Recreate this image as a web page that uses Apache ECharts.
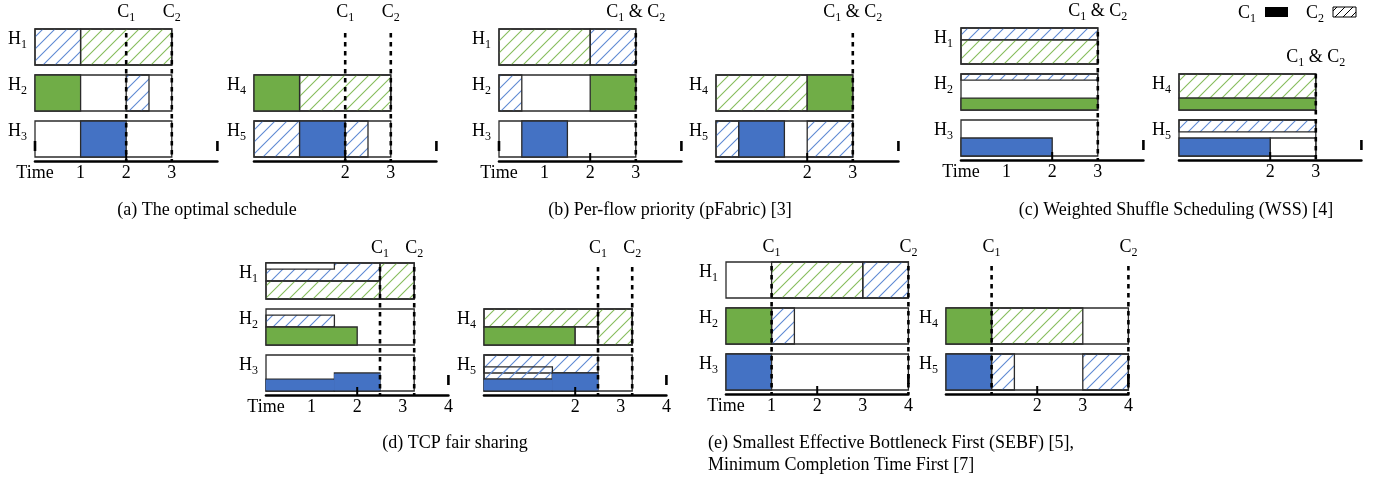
<!DOCTYPE html>
<html><head><meta charset="utf-8">
<script src="https://cdn.jsdelivr.net/npm/echarts@6/dist/echarts.min.js"></script>
<style>html,body{margin:0;padding:0;background:#fff}#c{width:1378px;height:478px}</style>
</head><body><div id="c"></div>
<script>
// ---------------- DATA ----------------
// piece: [host, start, end, rateLow, rateHigh, coflow (0 = idle, 1 = C1, 2 = C2), flow group]
const optimalLeft = [
  ['H1', 0, 1, 0, 1, 2, 'blue'],
  ['H1', 1, 3, 0, 1, 2, 'green'],
  ['H2', 0, 1, 0, 1, 1, 'green'],
  ['H2', 2, 2.5, 0, 1, 2, 'blue'],
  ['H3', 1, 2, 0, 1, 1, 'blue']
];
const optimalRight = [
  ['H4', 0, 1, 0, 1, 1, 'green'],
  ['H4', 1, 3, 0, 1, 2, 'green'],
  ['H5', 0, 1, 0, 1, 2, 'blue'],
  ['H5', 1, 2, 0, 1, 1, 'blue'],
  ['H5', 2, 2.5, 0, 1, 2, 'blue']
];
const pfabricLeft = [
  ['H1', 0, 2, 0, 1, 2, 'green'],
  ['H1', 2, 3, 0, 1, 2, 'blue'],
  ['H2', 0, 0.5, 0, 1, 2, 'blue'],
  ['H2', 2, 3, 0, 1, 1, 'green'],
  ['H3', 0.5, 1.5, 0, 1, 1, 'blue']
];
const pfabricRight = [
  ['H4', 0, 2, 0, 1, 2, 'green'],
  ['H4', 2, 3, 0, 1, 1, 'green'],
  ['H5', 0, 0.5, 0, 1, 2, 'blue'],
  ['H5', 0.5, 1.5, 0, 1, 1, 'blue'],
  ['H5', 2, 3, 0, 1, 2, 'blue']
];
const wssLeft = [
  ['H1', 0, 3, 0.67, 1, 2, 'blue'],
  ['H1', 0, 3, 0, 0.67, 2, 'green'],
  ['H2', 0, 3, 0.83, 1, 2, 'blue'],
  ['H2', 0, 3, 0, 0.33, 1, 'green'],
  ['H3', 0, 2, 0, 0.5, 1, 'blue']
];
const wssRight = [
  ['H4', 0, 3, 0.33, 1, 2, 'green'],
  ['H4', 0, 3, 0, 0.33, 1, 'green'],
  ['H5', 0, 3, 0.67, 1, 2, 'blue'],
  ['H5', 2, 3, 0, 0.5, 0, ''],
  ['H5', 0, 2, 0, 0.5, 1, 'blue']
];
const tcpLeft = [
  ['H1', 0, 2.5, 0.5, 1, 2, 'blue'],
  ['H1', 0, 1.5, 0.83, 1, 0, ''],
  ['H1', 0, 2.5, 0, 0.5, 2, 'green'],
  ['H1', 2.5, 3.25, 0, 1, 2, 'green'],
  ['H2', 0, 1.5, 0.5, 0.83, 2, 'blue'],
  ['H2', 0, 2, 0, 0.5, 1, 'green'],
  ['H3', 0, 1.5, 0, 0.33, 1, 'blue'],
  ['H3', 1.5, 2.5, 0, 0.5, 1, 'blue']
];
const tcpRight = [
  ['H4', 0, 2.5, 0.5, 1, 2, 'green'],
  ['H4', 0, 2, 0, 0.5, 1, 'green'],
  ['H4', 2, 2.5, 0, 0.5, 0, ''],
  ['H4', 2.5, 3.25, 0, 1, 2, 'green'],
  ['H5', 0, 2.5, 0.5, 1, 2, 'blue'],
  ['H5', 0, 1.5, 0.33, 0.67, 2, 'blue'],
  ['H5', 0, 1.5, 0, 0.33, 1, 'blue'],
  ['H5', 1.5, 2.5, 0, 0.5, 1, 'blue']
];
const sebfLeft = [
  ['H1', 1, 3, 0, 1, 2, 'green'],
  ['H1', 3, 4, 0, 1, 2, 'blue'],
  ['H2', 0, 1, 0, 1, 1, 'green'],
  ['H2', 1, 1.5, 0, 1, 2, 'blue'],
  ['H3', 0, 1, 0, 1, 1, 'blue']
];
const sebfRight = [
  ['H4', 0, 1, 0, 1, 1, 'green'],
  ['H4', 1, 3, 0, 1, 2, 'green'],
  ['H5', 0, 1, 0, 1, 1, 'blue'],
  ['H5', 1, 1.5, 0, 1, 2, 'blue'],
  ['H5', 3, 4, 0, 1, 2, 'blue']
];
// completion times [C1, C2]
const optimalC = [2, 3];
const pfabricC = [3, 3];
const wssC = [3, 3];
const tcpC = [2.5, 3.25];
const sebfC = [1, 4];

const hostsLeft = ['H1', 'H2', 'H3'];
const hostsRight = ['H4', 'H5'];

const tickLabelsLeft3 = ['Time', '1', '2', '3', ''];
const tickLabelsRight3 = ['', '', '2', '3', ''];
const tickLabelsLeft4 = ['Time', '1', '2', '3', '4'];
const tickLabelsRight4 = ['', '', '2', '3', '4'];
const axisTickValues = [2];
const axisEndValues = [4];

const captions = [
  '(a) The optimal schedule',
  '(b) Per-flow priority (pFabric) [3]',
  '(c) Weighted Shuffle Scheduling (WSS) [4]',
  '(d) TCP fair sharing',
  '(e) Smallest Effective Bottleneck First (SEBF) [5],',
  'Minimum Completion Time First [7]'
];
const legendNames = ['1', '2'];

// ---------------- STYLE / LAYOUT ----------------
const SERIF = '"Liberation Serif", "Times New Roman", serif';
const SOLID = { green: '#70ad47', blue: '#4472c4' };
const BORDER = '#2b2b2b';
const ROWP = 46, BOXH = 36, GRIDH = 132, UNIT = 45.6;
const rowOf = { H1: 0, H2: 1, H3: 2, H4: 1, H5: 2 };

function makeHatch(color, lw) {
  const s = 12, c = document.createElement('canvas');
  c.width = s; c.height = s;
  const g = c.getContext('2d');
  g.strokeStyle = color; g.lineWidth = lw;
  g.beginPath();
  g.moveTo(-1, s + 1); g.lineTo(s + 1, -1);
  g.moveTo(-2, 2); g.lineTo(2, -2);
  g.moveTo(s - 2, s + 2); g.lineTo(s + 2, s - 2);
  g.stroke();
  return c;
}
const HATCH = { green: makeHatch('#86bd5c', 1.1), blue: makeHatch('#5f8ad3', 1.1) };
const HATCH_BLACK = (function () {
  const s = 8, c = document.createElement('canvas');
  c.width = s; c.height = s;
  const g = c.getContext('2d');
  g.strokeStyle = '#000'; g.lineWidth = 1;
  g.beginPath(); g.moveTo(-1, s + 1); g.lineTo(s + 1, -1); g.stroke();
  return c;
})();

const RICH = {
  m: { fontSize: 18, lineHeight: 24, fontFamily: SERIF, fill: '#000' },
  s: { fontSize: 12, lineHeight: 14, fontFamily: SERIF, fill: '#000', verticalAlign: 'bottom' }
};
function subText(prefix, subs) {
  return subs.map((s, i) => '{m|' + (i ? ' & ' : '') + prefix + '}{s|' + s + '}').join('');
}

const panels = [
  { data: optimalLeft, C: optimalC, hosts: hostsLeft, x0: 35, top: 29, ticks: tickLabelsLeft3, zeroMark: true, cFrom: 'grid' },
  { data: optimalRight, C: optimalC, hosts: hostsRight, x0: 254, top: 29, ticks: tickLabelsRight3, cFrom: 'grid' },
  { data: pfabricLeft, C: pfabricC, hosts: hostsLeft, x0: 499, top: 29, ticks: tickLabelsLeft3, zeroMark: true, cFrom: 'grid' },
  { data: pfabricRight, C: pfabricC, hosts: hostsRight, x0: 716, top: 29, ticks: tickLabelsRight3, cFrom: 'grid' },
  { data: wssLeft, C: wssC, hosts: hostsLeft, x0: 961, top: 28, ticks: tickLabelsLeft3, cFrom: 'grid' },
  { data: wssRight, C: wssC, hosts: hostsRight, x0: 1179, top: 28, ticks: tickLabelsRight3, cFrom: 'first' },
  { data: tcpLeft, C: tcpC, hosts: hostsLeft, x0: 266, top: 263, ticks: tickLabelsLeft4, cFrom: 'grid' },
  { data: tcpRight, C: tcpC, hosts: hostsRight, x0: 484, top: 263, ticks: tickLabelsRight4, cFrom: 'grid' },
  { data: sebfLeft, C: sebfC, hosts: hostsLeft, x0: 726, top: 262, ticks: tickLabelsLeft4, cFrom: 'grid' },
  { data: sebfRight, C: sebfC, hosts: hostsRight, x0: 946, top: 262, ticks: tickLabelsRight4, cFrom: 'grid' }
];

function yOf(row, rate) { return row * ROWP + BOXH * (1 - rate); }

// solid pieces that touch another solid piece of the same flow on the same host
function joinedSolids(data) {
  return data.filter(d => d[5] === 1 && data.some(o => o !== d && o[0] === d[0] && o[5] === 1 &&
    o[6] === d[6] && (o[1] === d[2] || o[2] === d[1])));
}

const grid = [], xAxis = [], yAxis = [], series = [];
panels.forEach((p, i) => {
  p.end = Math.max.apply(null, p.C);
  grid.push({ left: p.x0, top: p.top, width: 4 * UNIT, height: GRIDH });
  xAxis.push({
    gridIndex: i, type: 'value', min: 0, max: 4, interval: 1,
    axisLine: { onZero: false, lineStyle: { color: '#000', width: 2.6 } },
    axisTick: { show: false }, splitLine: { show: false },
    axisLabel: {
      margin: 3, fontFamily: SERIF, fontSize: 18, color: '#000',
      showMinLabel: true, showMaxLabel: true,
      formatter: (v) => p.ticks[Math.round(v)] || ''
    }
  });
  yAxis.push({ gridIndex: i, type: 'value', min: 0, max: GRIDH, inverse: true, show: false });
  const ax = { xAxisIndex: i, yAxisIndex: i, clip: false, animation: false, silent: true };

  function rectOf(api, d) {
    const row = rowOf[d[0]];
    const a = api.coord([d[1], yOf(row, d[4])]), b = api.coord([d[2], yOf(row, d[3])]);
    return { x: a[0], y: a[1], width: b[0] - a[0], height: b[1] - a[1] };
  }

  // host boxes + host labels
  series.push(Object.assign({
    type: 'custom', z: 1,
    data: p.hosts.map(() => [0, p.end]),
    renderItem: (params, api) => {
      const h = p.hosts[params.dataIndex], row = rowOf[h];
      const a = api.coord([0, yOf(row, 1)]), b = api.coord([p.end, yOf(row, 0)]);
      return { type: 'group', children: [
        { type: 'rect', shape: { x: a[0], y: a[1], width: b[0] - a[0], height: b[1] - a[1] },
          style: { fill: '#fff', stroke: BORDER, lineWidth: 1.3 } },
        { type: 'text', x: a[0] - 8, y: a[1] - 2,
          style: { text: subText('H', [h.slice(1)]), rich: RICH, align: 'right', verticalAlign: 'top' } }
      ] };
    }
  }, ax));

  // transmission pieces
  series.push(Object.assign({
    type: 'custom', z: 2,
    data: p.data.map(d => [d[1], d[2]]),
    renderItem: (params, api) => {
      const d = p.data[params.dataIndex];
      let fill = '#fff';
      if (d[5] === 1) fill = SOLID[d[6]];
      else if (d[5] === 2) fill = { image: HATCH[d[6]], repeat: 'repeat' };
      return { type: 'rect', shape: rectOf(api, d), style: { fill: fill, stroke: BORDER, lineWidth: 1.3 } };
    }
  }, ax));

  // fill-only overlay so that joined solid pieces read as one shape
  const joined = joinedSolids(p.data);
  if (joined.length) {
    series.push(Object.assign({
      type: 'custom', z: 2.5,
      data: joined.map(d => [d[1], d[2]]),
      renderItem: (params, api) => {
        const d = joined[params.dataIndex];
        const r = rectOf(api, d);
        return { type: 'rect', shape: { x: r.x - 0.3, y: r.y + 0.7, width: r.width + 0.6, height: r.height - 1.4 },
          style: { fill: SOLID[d[6]] } };
      }
    }, ax));
  }

  // completion lines
  const cl = p.C[0] === p.C[1] ? [[p.C[0], ['1', '2']]] : [[p.C[0], ['1']], [p.C[1], ['2']]];
  const firstRow = Math.min.apply(null, p.hosts.map(h => rowOf[h]));
  series.push(Object.assign({
    type: 'custom', z: 3,
    data: cl.map(c => [c[0], 0]),
    renderItem: (params, api) => {
      const c = cl[params.dataIndex];
      const startY = p.cFrom === 'first' ? yOf(firstRow, 1) : 0;
      const a = api.coord([c[0], startY]), b = api.coord([c[0], GRIDH]);
      const lineTop = p.cFrom === 'first' ? a[1] : a[1] + 4;
      return { type: 'group', children: [
        { type: 'line', shape: { x1: a[0], y1: lineTop, x2: b[0], y2: b[1] },
          style: { stroke: '#000', lineWidth: 2.6, lineDash: [4.5, 4.5] } },
        { type: 'text', x: a[0], y: a[1] - (p.top > 200 ? 27 : 29),
          style: { text: subText('C', c[1]), rich: RICH, align: 'center', verticalAlign: 'top' } }
      ] };
    }
  }, ax));

  // axis end marks and tick
  const marks = axisEndValues.map(v => [v, 'end']).concat(axisTickValues.map(v => [v, 'tick']));
  if (p.zeroMark) marks.push([0, 'end']);
  series.push(Object.assign({
    type: 'custom', z: 4,
    data: marks.map(m => [m[0], GRIDH]),
    renderItem: (params, api) => {
      const m = marks[params.dataIndex];
      const a = api.coord([m[0], GRIDH]);
      const y1 = m[1] === 'end' ? a[1] - 20 : a[1] - 8;
      const y2 = m[1] === 'end' ? a[1] - 10 : a[1];
      return { type: 'line', shape: { x1: a[0], y1: y1, x2: a[0], y2: y2 },
        style: { stroke: '#000', lineWidth: m[1] === 'end' ? 2.6 : 2 } };
    }
  }, ax));
});

const capFont = '18px ' + SERIF;
const graphic = [
  { type: 'text', x: 1238, y: 1, style: { text: subText('C', [legendNames[0]]), rich: RICH } },
  { type: 'rect', shape: { x: 1265, y: 7, width: 23, height: 10 }, style: { fill: '#000' } },
  { type: 'text', x: 1306, y: 1, style: { text: subText('C', [legendNames[1]]), rich: RICH } },
  { type: 'rect', shape: { x: 1333, y: 7, width: 23, height: 10 },
    style: { fill: { image: HATCH_BLACK, repeat: 'repeat' }, stroke: '#000', lineWidth: 1 } },
  { type: 'text', x: 207, y: 210, style: { text: captions[0], font: capFont, fill: '#000', align: 'center', verticalAlign: 'middle' } },
  { type: 'text', x: 670, y: 210, style: { text: captions[1], font: capFont, fill: '#000', align: 'center', verticalAlign: 'middle' } },
  { type: 'text', x: 1176, y: 210, style: { text: captions[2], font: capFont, fill: '#000', align: 'center', verticalAlign: 'middle' } },
  { type: 'text', x: 455, y: 443, style: { text: captions[3], font: capFont, fill: '#000', align: 'center', verticalAlign: 'middle' } },
  { type: 'text', x: 708, y: 443, style: { text: captions[4], font: capFont, fill: '#000', align: 'left', verticalAlign: 'middle' } },
  { type: 'text', x: 708, y: 465, style: { text: captions[5], font: capFont, fill: '#000', align: 'left', verticalAlign: 'middle' } }
];

const chart = echarts.init(document.getElementById('c'), null, { renderer: 'canvas' });
chart.setOption({
  animation: false,
  backgroundColor: '#fff',
  grid: grid, xAxis: xAxis, yAxis: yAxis, series: series, graphic: graphic
});
</script>
</body></html>
